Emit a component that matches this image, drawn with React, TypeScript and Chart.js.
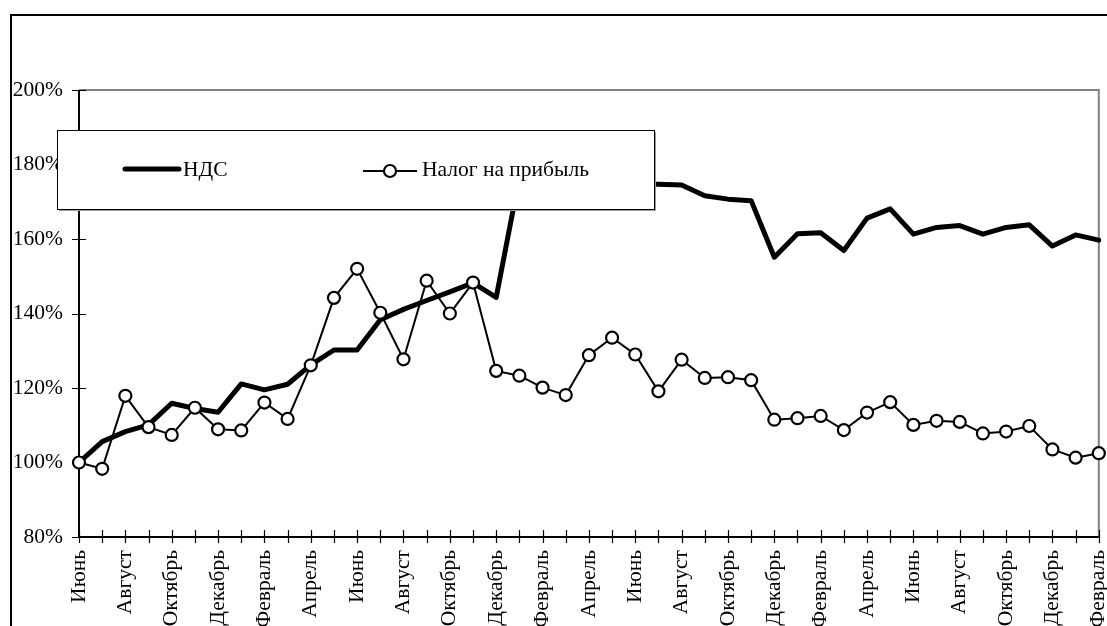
import React, { useEffect, useRef } from "react";
import { Chart, registerables } from "chart.js";

Chart.register(...registerables);

// Monthly categories, June through February (45 months)
const months = [
  "Июнь", "Июль", "Август", "Сентябрь", "Октябрь", "Ноябрь", "Декабрь",
  "Январь", "Февраль", "Март", "Апрель", "Май",
  "Июнь", "Июль", "Август", "Сентябрь", "Октябрь", "Ноябрь", "Декабрь",
  "Январь", "Февраль", "Март", "Апрель", "Май",
  "Июнь", "Июль", "Август", "Сентябрь", "Октябрь", "Ноябрь", "Декабрь",
  "Январь", "Февраль", "Март", "Апрель", "Май",
  "Июнь", "Июль", "Август", "Сентябрь", "Октябрь", "Ноябрь", "Декабрь",
  "Январь", "Февраль",
];

// Index of receipts, % of the first month
const vatIndex = [
  100, 105.6, 108.3, 110.1, 115.9, 114.5, 113.5, 121.1, 119.5, 121.0,
  126.2, 130.2, 130.2, 138.3, 141.1, 143.5, 145.8, 148.2, 144.3, 176.5,
  175.5, 174.5, 175.0, 174.5, 174.8, 174.7, 174.5, 171.6, 170.7, 170.3,
  155.1, 161.4, 161.7, 156.9, 165.6, 168.1, 161.3, 163.1, 163.6, 161.3,
  163.1, 163.8, 158.1, 161.1, 159.7,
];

const profitTaxIndex = [
  100, 98.3, 117.9, 109.5, 107.4, 114.7, 108.9, 108.6, 116.1, 111.7,
  126.1, 144.2, 152.0, 140.2, 127.7, 148.8, 140.0, 148.3, 124.6, 123.3,
  120.1, 118.1, 128.8, 133.5, 129.0, 119.1, 127.6, 122.7, 122.9, 122.1,
  111.5, 111.9, 112.5, 108.7, 113.4, 116.2, 110.1, 111.2, 110.9, 107.8,
  108.3, 109.8, 103.5, 101.3, 102.5,
];

const seriesNames = ["НДС", "Налог на прибыль"];
const yMin = 80;
const yMax = 200;
const yStep = 20;

const SERIF = '"Liberation Serif", "Times New Roman", serif';
const FONT_SIZE = 21.5;

// Outer frame, plot border and crossing tick marks
const framePlugin = {
  id: "frame",
  beforeDraw(chart: any) {
    const { ctx, chartArea } = chart;
    ctx.save();
    ctx.fillStyle = "#fff";
    ctx.fillRect(0, 0, chart.width, chart.height);
    ctx.strokeStyle = "#000";
    ctx.lineWidth = 2;
    ctx.strokeRect(11, 15, chart.width + 20, chart.height + 20);
    // top and right border of the plot area
    ctx.strokeStyle = "#808080";
    ctx.lineWidth = 2;
    ctx.beginPath();
    ctx.moveTo(chartArea.left, chartArea.top);
    ctx.lineTo(chartArea.right, chartArea.top);
    ctx.lineTo(chartArea.right, chartArea.bottom);
    ctx.stroke();
    ctx.restore();
  },
  beforeDatasetsDraw(chart: any) {
    const { ctx, chartArea, scales } = chart;
    const x = scales.x;
    const y = scales.y;
    ctx.save();
    ctx.strokeStyle = "#000";
    ctx.lineWidth = 2;
    ctx.beginPath();
    ctx.moveTo(chartArea.left, chartArea.top);
    ctx.lineTo(chartArea.left, chartArea.bottom);
    ctx.lineTo(chartArea.right, chartArea.bottom);
    ctx.stroke();
    ctx.lineWidth = 1.2;
    ctx.beginPath();
    for (let v = yMin; v <= yMax; v += yStep) {
      const py = Math.round(y.getPixelForValue(v)) + 0.5;
      ctx.moveTo(chartArea.left - 7, py);
      ctx.lineTo(chartArea.left + 7, py);
    }
    for (let i = 0; i < months.length; i++) {
      const px = Math.round(x.getPixelForValue(i)) + 0.5;
      ctx.moveTo(px, chartArea.bottom - 7);
      ctx.lineTo(px, chartArea.bottom + 6);
    }
    ctx.stroke();
    ctx.restore();
  },
};

// Boxed legend laid over the upper-left part of the plot
const legendBoxPlugin = {
  id: "legendBox",
  afterDatasetsDraw(chart: any) {
    const { ctx } = chart;
    const ds = chart.data.datasets;
    const bx = 57, by = 130, bw = 597, bh = 79;
    ctx.save();
    ctx.fillStyle = "#9a9a9a";
    ctx.fillRect(bx + 2, by + 2, bw, bh);
    ctx.fillStyle = "#fff";
    ctx.fillRect(bx, by, bw, bh);
    ctx.strokeStyle = "#000";
    ctx.lineWidth = 1;
    ctx.strokeRect(bx + 0.5, by + 0.5, bw, bh);

    ctx.font = `${FONT_SIZE}px ${SERIF}`;
    ctx.fillStyle = "#000";
    ctx.textBaseline = "middle";
    ctx.textAlign = "left";

    // first entry: thick line
    ctx.strokeStyle = ds[1].borderColor;
    ctx.lineWidth = ds[1].borderWidth;
    ctx.lineCap = "round";
    ctx.beginPath();
    ctx.moveTo(125, 169);
    ctx.lineTo(179, 169);
    ctx.stroke();
    ctx.fillText(ds[1].label, 183, 170);

    // second entry: thin line with circle marker
    ctx.strokeStyle = ds[0].borderColor;
    ctx.lineWidth = ds[0].borderWidth;
    ctx.lineCap = "butt";
    ctx.beginPath();
    ctx.moveTo(363, 171);
    ctx.lineTo(417, 171);
    ctx.stroke();
    ctx.beginPath();
    ctx.arc(390, 171, ds[0].pointRadius, 0, Math.PI * 2);
    ctx.fillStyle = "#fff";
    ctx.fill();
    ctx.lineWidth = ds[0].pointBorderWidth;
    ctx.stroke();
    ctx.fillStyle = "#000";
    ctx.fillText(ds[0].label, 422, 170);
    ctx.restore();
  },
};

export default function App() {
  const canvasRef = useRef<HTMLCanvasElement | null>(null);

  useEffect(() => {
    const canvas = canvasRef.current;
    if (!canvas) return;
    const chart = new Chart(canvas, {
      type: "line",
      data: {
        labels: months,
        datasets: [
          {
            label: seriesNames[1],
            data: profitTaxIndex,
            borderColor: "#000",
            borderWidth: 2,
            pointRadius: 6,
            pointHoverRadius: 6,
            pointBackgroundColor: "#fff",
            pointBorderColor: "#000",
            pointBorderWidth: 2.2,
            tension: 0,
            order: 0,
          },
          {
            label: seriesNames[0],
            data: vatIndex,
            borderColor: "#000",
            borderWidth: 5,
            pointRadius: 0,
            pointHoverRadius: 0,
            borderJoinStyle: "round",
            borderCapStyle: "round",
            tension: 0,
            order: 1,
          },
        ],
      },
      options: {
        animation: false,
        responsive: false,
        maintainAspectRatio: false,
        events: [],
        layout: { padding: { top: 90, right: 7, left: 0, bottom: 0 } },
        plugins: {
          legend: { display: false },
          tooltip: { enabled: false },
        },
        scales: {
          x: {
            type: "category",
            offset: false,
            grid: { display: false, drawTicks: false },
            border: { display: false },
            ticks: {
              autoSkip: false,
              maxRotation: 90,
              minRotation: 90,
              padding: 13,
              color: "#000",
              font: { family: SERIF, size: FONT_SIZE },
              callback: (_v: any, i: number) => (i % 2 === 0 ? months[i] : ""),
            },
            afterFit: (s: any) => {
              s.height = 89;
              s.paddingLeft = 0;
              s.paddingRight = 0;
            },
          },
          y: {
            min: yMin,
            max: yMax,
            grid: { display: false, drawTicks: false },
            border: { display: false },
            ticks: {
              stepSize: yStep,
              padding: 16,
              color: "#000",
              font: { family: SERIF, size: FONT_SIZE },
              callback: (v: any) => `${v}%`,
            },
            afterFit: (s: any) => {
              s.width = 79;
              s.paddingTop = 0;
              s.paddingBottom = 0;
            },
          },
        },
      },
      plugins: [framePlugin, legendBoxPlugin],
    });
    return () => chart.destroy();
  }, []);

  return (
    <div style={{ position: "fixed", left: 0, top: 0, width: 1107, height: 626, background: "#fff" }}>
      <canvas ref={canvasRef} width={1107} height={626} style={{ display: "block" }} />
    </div>
  );
}
